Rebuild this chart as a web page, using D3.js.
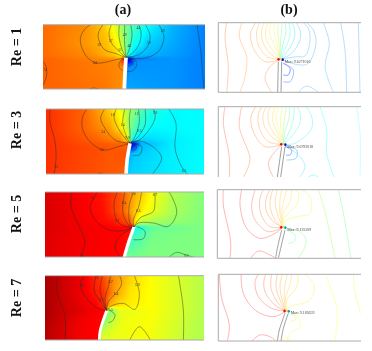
<!DOCTYPE html>
<html><head><meta charset="utf-8">
<script src="https://cdn.jsdelivr.net/npm/d3@7"></script>
<style>
html,body{margin:0;padding:0;background:#fff;overflow:hidden}
#wrap{position:relative;width:372px;height:351px}
canvas,svg{position:absolute;left:0;top:0;filter:blur(.4px)}
text{font-family:"Liberation Serif",serif}
</style></head><body><div id="wrap"><canvas id="field" width="372" height="351"></canvas><svg id="chart" width="372" height="351"></svg></div>
<script>
// ---------- categories ----------
const columnTitles = ["(a)", "(b)"];
const reynolds = ["Re = 1", "Re = 3", "Re = 5", "Re = 7"];
const maxLabels = ["Max: 9.6271016", "Max: 9.6792018", "Max: 9.125509", "Max: 9.185659"];

// ---------- colour scale (normalised level -> colour) ----------
const jetLevels = [0, .125, .375, .625, .875, 1];
const jetColors = ["#00007f", "#0000ff", "#00ffff", "#ffff00", "#ff0000", "#7f0000"];

const fieldRowY1 = [14, 70, 105, 116, 126, 140, 207];
const fieldRows1 = [
 [[10,.77],[130,.74],[190,.68],[215,.625],[254,.5],[295,.42],[340,.36],[400,.3],[495,.25]],
 [[10,.77],[130,.73],[200,.69],[235,.625],[258,.5],[280,.4],[320,.33],[400,.29],[495,.25]],
 [[10,.77],[150,.74],[225,.68],[250,.6],[258,.5],[268,.38],[290,.31],[400,.28],[495,.25]],
 [[10,.78],[200,.74],[240,.72],[252,.85],[258,.88],[259,.08],[270,.12],[285,.25],[400,.27],[495,.25]],
 [[10,.78],[200,.75],[238,.74],[250,.82],[258,.8],[259,.12],[272,.16],[288,.27],[400,.27],[495,.25]],
 [[10,.78],[200,.75],[240,.74],[258,.74],[259,.24],[275,.27],[400,.27],[495,.25]],
 [[10,.78],[200,.76],[258,.73],[259,.29],[400,.27],[495,.25]]];
const fieldRowY3 = [12, 70, 105, 116, 128, 145, 207];
const fieldRows3 = [
 [[20,.83],[130,.78],[190,.7],[235,.625],[270,.53],[320,.42],[400,.37],[495,.375]],
 [[20,.83],[130,.78],[210,.72],[250,.63],[270,.5],[295,.42],[340,.37],[495,.375]],
 [[20,.83],[170,.78],[240,.74],[262,.65],[270,.5],[280,.37],[310,.33],[400,.36],[495,.375]],
 [[20,.83],[220,.78],[260,.78],[268,.86],[271,.86],[272,.08],[285,.14],[305,.3],[400,.36],[495,.375]],
 [[20,.83],[220,.79],[260,.78],[270,.84],[271,.14],[285,.2],[300,.31],[400,.36],[495,.375]],
 [[20,.83],[220,.79],[270,.8],[271,.28],[290,.32],[400,.36],[495,.375]],
 [[20,.83],[220,.79],[270,.78],[271,.33],[400,.36],[495,.375]]];
const fieldRowY5 = [12, 70, 105, 118, 135, 207];
const fieldRows5 = [
 [[15,.91],[100,.89],[180,.86],[240,.8],[290,.7],[340,.62],[400,.55],[495,.5]],
 [[15,.91],[100,.89],[190,.86],[250,.78],[285,.68],[320,.62],[400,.54],[495,.5]],
 [[15,.91],[110,.89],[220,.86],[270,.8],[285,.66],[300,.56],[340,.53],[495,.5]],
 [[15,.91],[110,.89],[260,.87],[278,.87],[283,.8],[285,.38],[300,.4],[335,.47],[495,.5]],
 [[15,.91],[110,.89],[240,.875],[282,.86],[283,.42],[310,.44],[350,.49],[495,.5]],
 [[15,.91],[110,.89],[282,.87],[283,.48],[350,.5],[495,.5]]];
const fieldRowY7 = [17, 70, 105, 122, 150, 210];
const fieldRows7 = [
 [[15,.96],[60,.93],[130,.89],[180,.82],[220,.74],[280,.66],[340,.62],[430,.58],[495,.55]],
 [[15,.96],[60,.93],[140,.88],[190,.83],[225,.72],[270,.65],[340,.62],[430,.58],[495,.55]],
 [[15,.96],[60,.93],[170,.875],[195,.82],[210,.7],[240,.65],[340,.62],[430,.58],[495,.55]],
 [[15,.96],[60,.93],[190,.875],[199,.84],[204,.55],[215,.5],[240,.6],[340,.62],[430,.58],[495,.55]],
 [[15,.96],[60,.93],[130,.89],[200,.87],[201,.5],[225,.56],[260,.61],[340,.62],[430,.58],[495,.55]],
 [[15,.96],[60,.93],[130,.89],[200,.87],[201,.6],[340,.62],[430,.58],[495,.55]]];

// ---------- crack centre lines, column (a) ----------
const crackA1 = [[258,113],[255,160],[253,210]];
const crackA3 = [[270,115],[262,160],[258,210]];
const crackA5 = [[282,117],[265,165],[252,210]];
const crackA7 = [[200,122],[190,150],[180,185],[178,213]];

// ---------- contours, column (a) ----------
const contoursA1 = [
 [[10,125],[18,140],[20,165],[10,195]],
 [[258,113],[215,122],[190,128],[165,128],[140,110],[123,75],[122,50],[135,27],[155,12]],
 [[258,113],[225,100],[195,90],[178,65],[175,40],[190,12]],
 [[258,113],[235,92],[215,70],[207,40],[215,12]],
 [[258,113],[245,85],[237,50],[238,12]],
 [[258,113],[254,70],[254,12]],
 [[258,113],[270,80],[276,45],[272,12]],
 [[258,113],[285,92],[300,65],[303,35],[295,12]],
 [[258,113],[300,102],[325,75],[330,45],[315,12]],
 [[258,113],[310,115],[355,95],[372,50],[355,12]],
 [[471,12],[482,90],[492,210]],
 [[258,113],[240,125],[237,140],[248,152]],
 [[262,113],[285,120],[290,135],[278,152],[262,155]],
 [[262,113],[275,122],[275,135],[262,140]],
 [[145,209],[160,204],[182,209]]];
const contoursA3 = [
 [[30,10],[30,50],[45,110],[48,160],[42,210]],
 [[270,115],[235,125],[190,135],[150,110],[127,70],[128,35],[142,10]],
 [[270,115],[225,105],[195,70],[182,40],[195,10]],
 [[270,115],[255,100],[232,65],[222,35],[230,10]],
 [[270,115],[260,95],[248,55],[255,10]],
 [[270,115],[270,85],[268,40],[272,10]],
 [[270,115],[285,95],[298,50],[295,10]],
 [[270,115],[290,100],[315,60],[315,10]],
 [[270,115],[305,100],[345,40],[340,10]],
 [[270,115],[300,108],[345,130],[365,160],[335,210]],
 [[385,10],[408,55],[405,130],[425,185],[445,210]],
 [[275,115],[305,125],[300,148],[280,152]],
 [[275,118],[290,125],[285,135],[275,135]],
 [[170,209],[182,204],[192,209]]];
const contoursA5 = [
 [[97,10],[92,50],[115,110],[135,160],[120,210]],
 [[282,117],[250,128],[205,125],[165,95],[150,55],[162,30],[172,10]],
 [[282,117],[255,115],[232,100],[222,60],[225,30],[233,10]],
 [[282,117],[265,110],[248,70],[255,10]],
 [[282,117],[270,105],[268,50],[282,10]],
 [[282,117],[280,95],[295,60],[305,10]],
 [[282,117],[300,90],[340,70],[345,40],[345,10]],
 [[282,117],[295,105],[340,105],[385,115],[410,75],[395,25],[385,10]],
 [[290,115],[315,130],[310,152],[280,155]],
 [[282,117],[240,145],[225,175],[232,195],[245,210]],
 [[385,209],[410,193],[435,200],[465,209]]];
const contoursA7 = [
 [[55,15],[50,60],[75,140],[75,213]],
 [[200,122],[165,110],[130,70],[122,40],[135,15]],
 [[200,122],[185,100],[162,60],[170,15]],
 [[200,122],[190,95],[180,60],[188,15]],
 [[200,122],[195,85],[205,50],[212,15]],
 [[200,122],[205,95],[232,65],[245,40],[238,15]],
 [[200,122],[210,110],[250,100],[285,118],[298,70],[282,15]],
 [[205,118],[225,135],[215,155],[205,157]],
 [[268,213],[298,170],[333,213]],
 [[415,15],[430,120],[430,213]]];

// ---------- contour labels, column (a): x, y, text ----------
const labelsA1 = [[15,150,"74"],[165,128,"64"],[178,75,"59"],[212,63,"57"],[240,90,"51"],[254,43,"49"],[268,78,"46"],[295,24,"44"],[326,68,"39"],[368,32,"29"]];
const labelsA3 = [[48,186,"33"],[185,133,"24"],[190,80,"24"],[218,28,"18"],[248,58,"14"],[290,27,"12"],[262,98,"9.9"],[298,76,"9.5"],[345,22,"7.6"],[432,197,"6.2"]];
const labelsA5 = [[125,202,"14"],[157,30,"14"],[232,97,"9.1"],[252,44,"8.4"],[280,16,"7.8"],[295,68,"6.5"],[345,20,"6.7"],[440,204,"6.1"]];
const labelsA7 = [[72,197,"9"],[126,47,"8.5"],[170,22,"7.9"],[184,88,"6.2"],[212,35,"6.7"],[228,72,"6.4"],[292,45,"5.9"],[212,118,"5.5"]];

// ---------- crack walls, column (b) ----------
const wallsB1 = [[[265,185],[263,277]], [[275,185],[273,277]]];
const wallsB3 = [[[275,440],[262,531]], [[285,440],[272,531]]];
const wallsB5 = [[[275,165],[262,220],[257,250]], [[285,165],[272,220],[265,250]]];
const wallsB7 = [[[285,415],[268,465],[262,498]], [[295,415],[280,460],[273,498]]];

// ---------- contours, column (b) ----------
const contoursB1 = [
 [[110,68],[105,110],[115,200],[110,277]],
 [[155,68],[148,110],[170,170],[165,230],[150,277]],
 [[270,178],[225,185],[190,145],[182,100],[197,68]],
 [[270,178],[232,170],[205,135],[200,95],[210,68]],
 [[270,178],[240,160],[218,125],[215,90],[222,68]],
 [[270,178],[248,150],[228,115],[228,85],[235,68]],
 [[270,178],[255,140],[240,105],[240,80],[245,68]],
 [[270,178],[260,130],[252,95],[254,68]],
 [[270,178],[266,120],[263,90],[265,68]],
 [[270,178],[272,120],[275,90],[275,68]],
 [[270,178],[280,130],[288,95],[285,68]],
 [[270,178],[288,140],[300,105],[297,68]],
 [[270,178],[295,150],[313,115],[313,85],[305,68]],
 [[270,178],[305,160],[330,120],[330,90],[318,68]],
 [[270,178],[320,170],[345,168],[360,120],[355,85],[340,68]],
 [[270,178],[330,195],[355,190],[378,130],[370,90],[350,68]],
 [[400,68],[418,130],[405,200],[430,277]],
 [[452,68],[465,150],[470,277]],
 [[505,68],[510,277]],
 [[270,178],[240,200],[225,235],[245,277]],
 [[280,190],[310,210],[300,245],[280,245]],
 [[280,190],[300,205],[295,225],[280,225]],
 [[325,277],[350,258],[385,277]]];
const contoursB3 = [
 [[105,320],[100,370],[118,470],[118,531]],
 [[155,320],[148,380],[180,480],[160,531]],
 [[278,433],[225,440],[190,395],[183,350],[197,320]],
 [[278,433],[235,425],[208,385],[205,345],[215,320]],
 [[278,433],[245,410],[222,375],[220,340],[230,320]],
 [[278,433],[252,400],[235,365],[235,335],[242,320]],
 [[278,433],[260,395],[247,355],[255,320]],
 [[278,433],[265,385],[258,350],[265,320]],
 [[278,433],[272,380],[272,345],[277,320]],
 [[278,433],[280,385],[285,345],[288,320]],
 [[278,433],[285,395],[298,350],[298,320]],
 [[278,433],[293,405],[310,360],[312,320]],
 [[278,433],[300,415],[330,370],[330,340],[322,320]],
 [[278,433],[315,430],[365,385],[365,350],[348,320]],
 [[278,433],[330,470],[345,500],[330,531]],
 [[390,320],[410,390],[410,460],[432,531]],
 [[500,320],[510,400],[510,531]],
 [[278,433],[255,455],[235,490],[250,531]],
 [[285,440],[320,450],[318,475],[290,480]],
 [[285,440],[305,450],[300,465],[288,465]],
 [[355,531],[370,525],[385,531]]];
const contoursB5 = [
 [[100,44],[100,90],[122,200],[120,250]],
 [[278,157],[255,175],[210,190],[170,160],[150,90],[155,44]],
 [[278,157],[235,170],[195,135],[185,90],[195,44]],
 [[278,157],[240,155],[212,115],[210,70],[220,44]],
 [[278,157],[250,140],[228,105],[230,65],[240,44]],
 [[278,157],[255,135],[240,90],[248,44]],
 [[278,157],[265,125],[255,80],[262,44]],
 [[278,157],[270,115],[270,75],[275,44]],
 [[278,157],[275,110],[283,70],[290,44]],
 [[278,157],[280,115],[300,80],[305,44]],
 [[278,157],[285,125],[320,90],[325,55],[315,44]],
 [[278,157],[290,135],[320,125],[360,115],[360,65],[335,44]],
 [[385,44],[405,110],[435,250]],
 [[445,44],[465,140],[482,250]],
 [[182,250],[205,228],[240,240],[258,250]],
 [[290,165],[320,165],[347,190],[345,215],[325,250]],
 [[290,165],[315,180],[312,200],[295,205]]];
const contoursB7 = [
 [[88,298],[95,370],[118,450],[112,498]],
 [[288,408],[250,425],[195,405],[160,355],[153,298]],
 [[288,408],[245,400],[205,365],[195,320],[205,298]],
 [[288,408],[255,390],[225,350],[222,315],[228,298]],
 [[288,408],[265,385],[243,340],[245,298]],
 [[288,408],[270,375],[258,335],[262,298]],
 [[288,408],[275,370],[270,330],[277,298]],
 [[288,408],[282,365],[285,330],[292,298]],
 [[288,408],[287,365],[300,330],[305,298]],
 [[288,408],[292,370],[315,345],[325,310],[320,298]],
 [[288,408],[300,395],[360,375],[372,330],[345,298]],
 [[405,298],[440,400],[435,498]],
 [[490,298],[495,350],[512,415]],
 [[185,498],[210,480],[240,485],[258,498]],
 [[295,415],[325,425],[330,455],[300,475],[290,498]],
 [[275,498],[290,488],[305,498]],
 [[298,415],[318,425],[315,435],[300,440]]];

// ---------- contour colours, column (b), in the order listed above ----------
const huesB1 = ["#ffc4a4","#ffd2aa","#ffcf9f","#ffd9a0","#ffe0a0","#ffeca0","#fff6a0","#f6ffa0","#e0ffa8","#c0ffc0","#a8ffd8","#a0fff0","#a0f0ff","#a0e4ff","#a8dcff","#a8d8ff","#a8dcff","#a8d8ff","#b0d8ff","#ffc8a8","#90b0ff","#8090ff","#a8dcff"];
const huesB3 = ["#ffb8a0","#ffc0a0","#ffc8a0","#ffd0a0","#ffdca0","#ffe4a0","#ffeea0","#fffaa0","#f0ffa0","#d0ffb0","#b8ffc8","#a0ffe8","#a0fff4","#a0f8ff","#a0f0ff","#a0ffff","#b8ffff","#ffb8a0","#90c8ff","#80a0ff","#a0f8ff"];
const huesB5 = ["#ffa8a8","#ffa8a8","#ffb8a8","#ffc0a0","#ffc8a0","#ffd4a0","#ffdca0","#ffe4a0","#ffeca0","#fff0a0","#fff8a0","#f0ffa0","#d0ffb0","#b8ffc0","#ffa8a8","#c0ffc0","#b0ffe0"];
const huesB7 = ["#ffa8a8","#ffa8a8","#ffb0a8","#ffb8a0","#ffc4a0","#ffd0a0","#ffd8a0","#ffe0a0","#ffe8a0","#fff0a0","#fff8a0","#ffffa0","#f4ffa0","#ffa8a8","#f8ffa0","#f8ffa0","#e0ffa0"];

// ---------- panel layout ----------
const panelsA = [
 {box:[43,24.7,205,89], origin:[40,20], rowY:fieldRowY1, rows:fieldRows1, crack:crackA1, crackW:3.8, contours:contoursA1, labels:labelsA1},
 {box:[46,109,204,174], origin:[40,105], rowY:fieldRowY3, rows:fieldRows3, crack:crackA3, crackW:3.6, contours:contoursA3, labels:labelsA3},
 {box:[45,192,204,257], origin:[40,188], rowY:fieldRowY5, rows:fieldRows5, crack:crackA5, crackW:3.2, contours:contoursA5, labels:labelsA5},
 {box:[45,275.7,204,340], origin:[40,270], rowY:fieldRowY7, rows:fieldRows7, crack:crackA7, crackW:2.8, contours:contoursA7, labels:labelsA7}];
const panelsB = [
 {box:[218.3,22.7,361,92.3], origin:[190,0], walls:wallsB1, contours:contoursB1, hues:huesB1, tip:[270,178], floor:true},
 {box:[218.3,106.7,361,177], origin:[190,0], walls:wallsB3, contours:contoursB3, hues:huesB3, tip:[278,433], floor:false},
 {box:[217.3,189.7,361,258.3], origin:[190,175], walls:wallsB5, contours:contoursB5, hues:huesB5, tip:[278,157], floor:true},
 {box:[218.3,274.3,361,341], origin:[190,175], walls:wallsB7, contours:contoursB7, hues:huesB7, tip:[288,408], floor:true}];
const rowCentres = [47, 130, 214, 298];

const jet = d3.scaleLinear().domain(jetLevels).range(jetColors).clamp(true);
const svg = d3.select("#chart");
const ctx = document.getElementById("field").getContext("2d");
const smooth = (sx, sy) => d3.line().x(d => sx(d[0])).y(d => sy(d[1])).curve(d3.curveCatmullRom.alpha(.5));
const defs = svg.append("defs");

// column (a): filled field + contours
panelsA.forEach((p, pi) => {
  const [x0, y0, x1, y1] = p.box;
  const sx = d3.scaleLinear().domain([0, 480]).range([p.origin[0], p.origin[0] + 160]);
  const sy = d3.scaleLinear().domain([0, 225]).range([p.origin[1], p.origin[1] + 75]);
  const crackAt = d3.scaleLinear().domain(p.crack.map(d => d[1])).range(p.crack.map(d => d[0]));
  const tipY = p.crack[0][1], tipX = p.crack[0][0];
  const rowScales = p.rows.map(r => d3.scaleLinear().domain(r.map(d => d[0])).range(r.map(d => d[1])).clamp(true));
  const w = Math.round(x1 - x0), h = Math.round(y1 - y0);
  const img = ctx.createImageData(w, h);
  for (let j = 0; j < h; j++) for (let i = 0; i < w; i++) {
    const X = sx.invert(x0 + i + .5), Y = sy.invert(y0 + j + .5);
    const u = Y > tipY ? X - (crackAt(Y) - tipX) : X;
    const k = Math.max(0, Math.min(p.rowY.length - 2, d3.bisectRight(p.rowY, Y) - 1));
    const f = Math.max(0, Math.min(1, (Y - p.rowY[k]) / (p.rowY[k + 1] - p.rowY[k])));
    const v = rowScales[k](u) * (1 - f) + rowScales[k + 1](u) * f;
    const c = d3.rgb(jet(v)), o = (j * w + i) * 4;
    img.data[o] = c.r; img.data[o + 1] = c.g; img.data[o + 2] = c.b; img.data[o + 3] = 255;
  }
  ctx.putImageData(img, Math.round(x0), Math.round(y0));

  const id = "clipA" + pi;
  defs.append("clipPath").attr("id", id).append("rect").attr("x", x0).attr("y", y0).attr("width", x1 - x0).attr("height", y1 - y0);
  const g = svg.append("g").attr("clip-path", `url(#${id})`);
  const line = smooth(sx, sy);
  g.selectAll("path.c").data(p.contours).join("path").attr("class", "c").attr("d", line)
    .attr("fill", "none").attr("stroke", "#2a2a2a").attr("stroke-opacity", .6).attr("stroke-width", .75);
  g.append("path").datum(p.crack).attr("d", line).attr("fill", "none").attr("stroke", "#fff").attr("stroke-width", p.crackW);
  g.selectAll("text").data(p.labels).join("text").attr("x", d => sx(d[0])).attr("y", d => sy(d[1]))
    .attr("text-anchor", "middle").attr("dy", "0.35em").attr("font-size", 3.6).attr("fill", "#333").text(d => d[2]);
  svg.selectAll(null).data([y0, y1]).join("line").attr("x1", x0).attr("x2", x1).attr("y1", d => d).attr("y2", d => d)
    .attr("stroke", "#aaa").attr("stroke-width", 1);
});

// column (b): contour lines only
panelsB.forEach((p, pi) => {
  const [x0, y0, x1, y1] = p.box;
  const sx = d3.scaleLinear().domain([0, 546]).range([p.origin[0], p.origin[0] + 182]);
  const sy = d3.scaleLinear().domain([0, 525]).range([p.origin[1], p.origin[1] + 175]);
  const id = "clipB" + pi;
  defs.append("clipPath").attr("id", id).append("rect").attr("x", x0).attr("y", y0).attr("width", x1 - x0).attr("height", y1 - y0);
  const g = svg.append("g").attr("clip-path", `url(#${id})`);
  const line = smooth(sx, sy);
  g.selectAll("path.c").data(p.contours).join("path").attr("class", "c").attr("d", line)
    .attr("fill", "none").attr("stroke", (d, i) => p.hues[i]).attr("stroke-width", .85);
  g.selectAll("path.w").data(p.walls).join("path").attr("class", "w").attr("d", line)
    .attr("fill", "none").attr("stroke", "#777").attr("stroke-width", .7);
  const [tx, ty] = p.tip;
  g.append("circle").attr("cx", sx(tx - 4)).attr("cy", sy(ty)).attr("r", 1.4).attr("fill", "#f01010");
  g.append("circle").attr("cx", sx(tx + 8)).attr("cy", sy(ty + 1)).attr("r", 1.3).attr("fill", pi < 2 ? "#0010d0" : "#00a0c0");
  g.append("circle").attr("cx", sx(tx + 2)).attr("cy", sy(ty - 1)).attr("r", 1.1).attr("fill", "#e8e040");
  svg.append("text").attr("x", sx(tx + 14)).attr("y", sy(ty + 6)).attr("dy", "0.35em")
    .attr("font-size", 3.9).attr("font-family", "Liberation Sans").attr("fill", "#444").text(maxLabels[pi]);
  svg.append("path").attr("d", `M${x1},${y0}H${x0}V${y1}` + (p.floor ? `H${x1}` : ""))
    .attr("fill", "none").attr("stroke", "#aaa").attr("stroke-width", 1);
});

// headings
svg.selectAll("text.col").data(columnTitles).join("text").attr("class", "col")
  .attr("x", (d, i) => [123, 289][i]).attr("y", 13.5).attr("text-anchor", "middle")
  .attr("font-size", 14).attr("font-weight", "bold").attr("fill", "#111").text(d => d);
svg.selectAll("text.row").data(reynolds).join("text").attr("class", "row")
  .attr("transform", (d, i) => `translate(20.5,${rowCentres[i]}) rotate(-90)`).attr("text-anchor", "middle")
  .attr("font-size", 14).attr("font-weight", "bold").attr("fill", "#111").text(d => d);
</script></body></html>
